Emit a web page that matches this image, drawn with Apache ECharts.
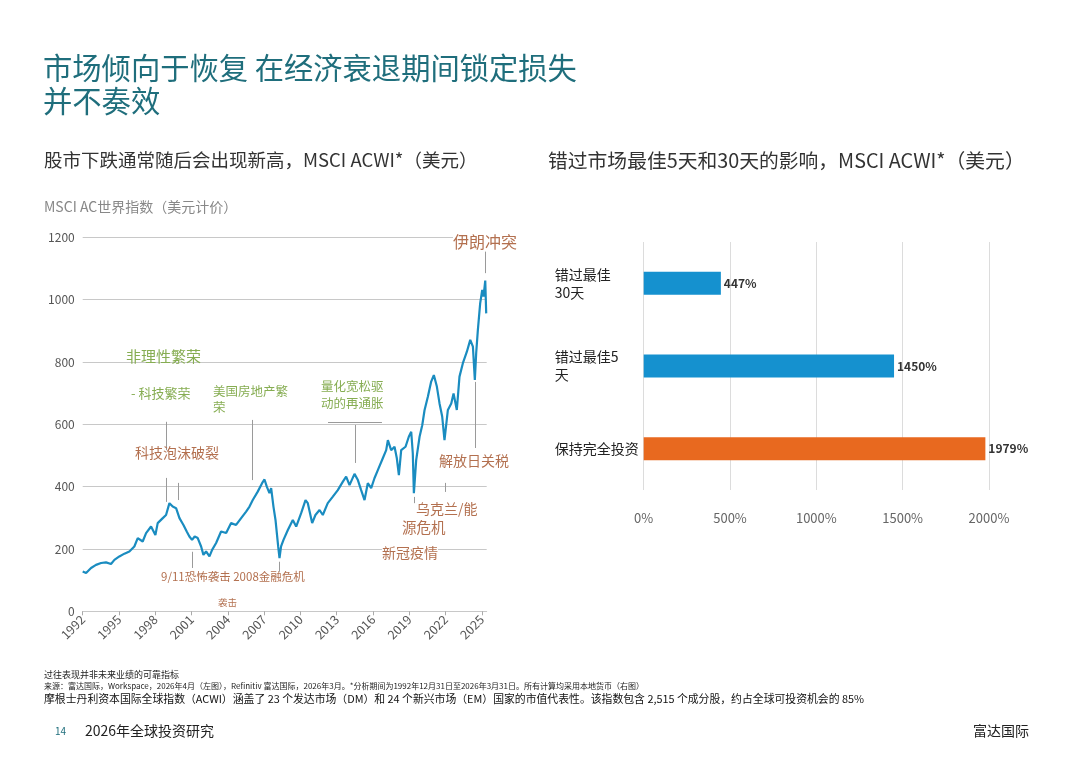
<!DOCTYPE html>
<html>
<head>
<meta charset="utf-8">
<script src="https://cdn.jsdelivr.net/npm/echarts@6/dist/echarts.min.js"></script>
<style>
  html, body { margin: 0; padding: 0; background: #fff; }
  #main { width: 1080px; height: 764px; }
</style>
</head>
<body>
<div id="main"></div>
<script>
var FONT = '"Noto Sans CJK SC", "Noto Sans", sans-serif';

// 左图：MSCI AC世界指数（美元计价），横轴为图上刻度位置的年份
var acwiYears = [
  1992.00, 1992.28, 1992.69, 1993.10, 1993.52, 1993.93, 1994.34, 1994.62, 1995.03, 1995.45,
  1995.86, 1996.27, 1996.55, 1996.96, 1997.24, 1997.65, 1998.01, 1998.20, 1998.62, 1998.89,
  1999.17, 1999.44, 1999.72, 2000.00, 2000.33, 2000.60, 2000.82, 2001.04, 2001.26, 2001.51,
  2001.79, 2001.98, 2002.20, 2002.48, 2002.70, 2003.03, 2003.44, 2003.86, 2004.27, 2004.68,
  2005.10, 2005.51, 2005.79, 2006.06, 2006.47, 2006.83, 2007.03, 2007.22, 2007.44, 2007.58,
  2007.77, 2007.94, 2008.05, 2008.16, 2008.27, 2008.40, 2008.60, 2008.96, 2009.37, 2009.65,
  2010.06, 2010.42, 2010.61, 2010.97, 2011.24, 2011.58, 2011.85, 2012.26, 2012.68, 2013.09,
  2013.51, 2013.78, 2014.06, 2014.47, 2014.75, 2015.02, 2015.30, 2015.57, 2015.85, 2016.12,
  2016.40, 2016.81, 2017.09, 2017.23, 2017.50, 2017.78, 2017.97, 2018.14, 2018.33, 2018.69,
  2018.96, 2019.16, 2019.29, 2019.38, 2019.57, 2019.85, 2020.07, 2020.26, 2020.54, 2020.81,
  2021.03, 2021.28, 2021.50, 2021.72, 2021.91, 2022.19, 2022.47, 2022.66, 2022.93, 2023.15,
  2023.43, 2023.76, 2024.04, 2024.26, 2024.42, 2024.53, 2024.67, 2024.86, 2025.03, 2025.14,
  2025.28, 2025.36
];
var acwiValues = [
  128, 123, 139, 149, 155, 157, 152, 165, 176, 185,
  192, 208, 235, 224, 251, 272, 245, 283, 299, 309,
  347, 336, 331, 299, 277, 256, 240, 229, 240, 235,
  208, 181, 192, 176, 197, 219, 256, 251, 283, 277,
  299, 320, 336, 357, 384, 411, 423, 400, 379, 395,
  336, 293, 251, 208, 171, 208, 229, 261, 293, 272,
  315, 357, 347, 283, 309, 325, 309, 347, 368, 389,
  416, 432, 405, 441, 421, 389, 357, 411, 395, 427,
  453, 491, 517, 549, 517, 528, 491, 437, 517, 528,
  560, 576, 507, 379, 485, 560, 597, 645, 689, 737,
  758, 721, 667, 625, 549, 646, 667, 699, 646, 753,
  796, 833, 871, 849, 742, 828, 903, 988, 1031, 1010,
  1061, 956
];

// 右图：错过市场最佳日子的影响
var barCategories = ['错过最佳\n30天', '错过最佳5\n天', '保持完全投资'];
var barValues = [447, 1450, 1979];
var barColors = ['#1591cf', '#1591cf', '#e8691f'];

// 注释引线：[年份, 起点值, 终点值]
var leaderLines = [
  [1998.89, 608, 517],
  [1998.89, 428, 351],
  [1999.90, 412, 357],
  [2006.02, 614, 421],
  [2014.57, 598, 476],
  [2001.06, 191, 139],
  [2008.25, 159, 127],
  [2019.41, 367, 347],
  [2021.95, 412, 383],
  [2024.46, 736, 524],
  [2025.32, 1154, 1085]
];

var acwiData = acwiYears.map(function (y, i) { return [y, acwiValues[i]]; });
var markData = leaderLines.map(function (l) {
  return [{ coord: [l[0], l[1]] }, { coord: [l[0], l[2]] }];
});
markData.push([{ coord: [2012.28, 608] }, { coord: [2016.74, 608] }]);

function txt(x, y, s, size, color, extra) {
  var st = { text: s, fill: color, fontSize: size, fontFamily: FONT, verticalAlign: 'middle', align: 'left' };
  if (extra) { for (var k in extra) st[k] = extra[k]; }
  return { type: 'text', x: x, y: y, silent: true, z: 100, style: st };
}

var green = '#86ad52';
var brown = '#b3704f';

var chart = echarts.init(document.getElementById('main'));
var option = {
  backgroundColor: '#fff',
  animation: false,
  textStyle: { fontFamily: FONT },
  grid: [
    { left: 82.7, top: 237.3, width: 404, height: 374 },
    { left: 643.7, top: 242, width: 345.3, height: 248 }
  ],
  xAxis: [
    {
      gridIndex: 0, type: 'value', min: 1992, max: 2025.4, interval: 3,
      axisLine: { lineStyle: { color: '#c8c8c8' } },
      axisTick: { show: true, length: 4, lineStyle: { color: '#aaa' } },
      splitLine: { show: false },
      axisLabel: {
        rotate: 45, fontSize: 12.5, color: '#555', margin: 6, showMaxLabel: false,
        formatter: function (v) { return String(v); }
      }
    },
    {
      gridIndex: 1, type: 'value', min: 0, max: 2000, interval: 500,
      axisLine: { show: false },
      axisTick: { show: false },
      splitLine: { show: true, lineStyle: { color: '#dcdcdc' } },
      axisLabel: {
        fontSize: 13, color: '#666', margin: 22,
        formatter: function (v) { return v + '%'; }
      }
    }
  ],
  yAxis: [
    {
      gridIndex: 0, type: 'value', min: 0, max: 1200, interval: 200,
      axisLine: { show: false },
      axisTick: { show: false },
      splitLine: { lineStyle: { color: '#c8c8c8' } },
      axisLabel: { fontSize: 12, color: '#555', margin: 8, formatter: function (v) { return String(v); } }
    },
    {
      gridIndex: 1, type: 'category', data: barCategories, inverse: true,
      axisLine: { show: false },
      axisTick: { show: false },
      axisLabel: { align: 'left', margin: 89, fontSize: 14, color: '#222', lineHeight: 18 }
    }
  ],
  series: [
    {
      type: 'line', xAxisIndex: 0, yAxisIndex: 0,
      data: acwiData,
      showSymbol: false,
      lineStyle: { color: '#1a8cc0', width: 2.2 },
      markLine: {
        silent: true, symbol: 'none',
        label: { show: false },
        lineStyle: { color: '#9a9a9a', width: 1, type: 'solid' },
        data: markData
      }
    },
    {
      type: 'bar', xAxisIndex: 1, yAxisIndex: 1,
      data: barValues,
      barWidth: 23,
      itemStyle: { color: function (p) { return barColors[p.dataIndex]; } },
      label: { show: true, position: 'right', distance: 3, formatter: '{c}%', fontSize: 12, fontWeight: 'bold', color: '#333' }
    }
  ],
  graphic: [
    txt(43, 68, '市场倾向于恢复 在经济衰退期间锁定损失', 29.3, '#1f6e7c'),
    txt(43, 101, '并不奏效', 29.3, '#1f6e7c'),
    txt(44, 160, '股市下跌通常随后会出现新高，MSCI ACWI*（美元）', 18.5, '#333'),
    txt(548, 160, '错过市场最佳5天和30天的影响，MSCI ACWI*（美元）', 19.8, '#333'),
    txt(44, 207, 'MSCI AC世界指数（美元计价）', 14, '#888'),

    txt(453, 242, '伊朗冲突', 16, brown, { backgroundColor: '#fff' }),
    txt(126, 356, '非理性繁荣', 15, green),
    txt(131, 393, '- 科技繁荣', 13, green),
    txt(213, 391, '美国房地产繁', 12.5, green),
    txt(213, 407, '荣', 12.5, green),
    txt(321, 386, '量化宽松驱', 12.5, green),
    txt(321, 403, '动的再通胀', 12.5, green),
    txt(135, 453, '科技泡沫破裂', 14, brown),
    txt(161, 577, '9/11恐怖袭击 2008金融危机', 11.5, brown),
    txt(218, 602, '袭击', 9.5, brown),
    txt(439, 461, '解放日关税', 14, brown),
    txt(416, 509, '乌克兰/能', 14, brown),
    txt(402, 527, '源危机', 14.5, brown),
    txt(382, 553, '新冠疫情', 14, brown, { backgroundColor: '#fff' }),

    txt(44, 675, '过往表现并非未来业绩的可靠指标', 9, '#222'),
    txt(44, 686, '来源：富达国际，Workspace，2026年4月（左图），Refinitiv 富达国际，2026年3月。*分析期间为1992年12月31日至2026年3月31日。所有计算均采用本地货币（右图）', 8, '#222'),
    txt(44, 699, '摩根士丹利资本国际全球指数（ACWI）涵盖了 23 个发达市场（DM）和 24 个新兴市场（EM）国家的市值代表性。该指数包含 2,515 个成分股，约占全球可投资机会的 85%', 10.85, '#111'),
    txt(55, 731, '14', 10, '#1f6e7c'),
    txt(85, 731, '2026年全球投资研究', 14, '#222'),
    txt(973, 731, '富达国际', 14, '#222')
  ]
};
chart.setOption(option);
</script>
</body>
</html>
